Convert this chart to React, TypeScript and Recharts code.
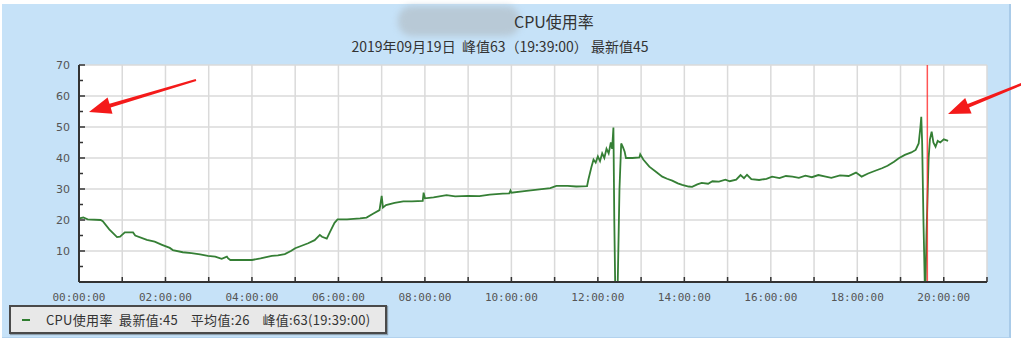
import React from 'react';
import { LineChart, Line, XAxis, YAxis, CartesianGrid, ReferenceLine } from 'recharts';

// sample time in hours since 00:00 and CPU usage (%)
const sampleHours = [
  0.0, 0.1, 0.2, 0.5, 0.55, 0.7, 0.88, 0.95, 1.06, 1.25, 1.3, 1.57, 1.75, 1.92, 2.1, 2.17, 2.4, 2.6, 2.8, 2.98,
  3.15, 3.3, 3.42, 3.45, 3.5, 3.75, 4.0, 4.2, 4.46, 4.6, 4.76, 4.9, 5.0, 5.15, 5.3, 5.45, 5.57, 5.62, 5.73, 5.8,
  5.91, 5.98, 6.2, 6.5, 6.65, 6.8, 6.95, 7.0, 7.03, 7.1, 7.3, 7.5, 7.7, 7.95, 7.97, 8.0, 8.2, 8.5, 8.7, 9.0,
  9.26, 9.5, 9.8, 9.95, 9.98, 10.0, 10.3, 10.65, 10.9, 11.04, 11.3, 11.5, 11.75, 11.78, 11.85, 11.9, 11.95, 12.0, 12.05, 12.1,
  12.15, 12.2, 12.25, 12.3, 12.33, 12.36, 12.38, 12.4, 12.46, 12.5, 12.54, 12.58, 12.62, 12.65, 12.8, 12.96, 12.98, 13.05, 13.19, 13.35,
  13.49, 13.6, 13.72, 13.85, 13.95, 14.1, 14.18, 14.3, 14.4, 14.55, 14.65, 14.8, 14.95, 15.05, 15.2, 15.3, 15.38, 15.45, 15.55, 15.73,
  15.9, 16.03, 16.2, 16.35, 16.5, 16.65, 16.8, 16.95, 17.1, 17.27, 17.4, 17.6, 17.8, 17.97, 18.05, 18.1, 18.25, 18.4, 18.57, 18.7,
  18.85, 18.96, 19.1, 19.25, 19.35, 19.42, 19.46, 19.48, 19.5, 19.53, 19.56, 19.58, 19.6, 19.62, 19.65, 19.68, 19.72, 19.76, 19.81, 19.86,
  19.92, 20.0, 20.1,
];
const cpuValues = [
  20.5, 20.8, 20.2, 20.0, 19.6, 17.0, 14.5, 14.6, 16.0, 16.0, 15.0, 13.6, 13.0, 12.0, 11.0, 10.3, 9.6, 9.3, 8.9, 8.4,
  8.2, 7.5, 8.2, 7.6, 7.1, 7.1, 7.1, 7.6, 8.4, 8.6, 9.0, 10.0, 10.9, 11.7, 12.5, 13.5, 15.2, 14.6, 14.0, 16.0,
  19.1, 20.2, 20.2, 20.5, 20.8, 22.0, 23.2, 27.8, 24.0, 24.8, 25.5, 26.0, 26.0, 26.2, 28.8, 27.0, 27.3, 28.0, 27.6, 27.8,
  27.7, 28.2, 28.5, 28.6, 29.5, 28.8, 29.3, 29.9, 30.3, 31.0, 31.0, 30.8, 30.9, 33.0, 37.0, 39.5, 38.5, 40.5, 39.0, 41.5,
  40.0, 43.0, 41.5, 45.0, 43.0, 49.8, 20.0, 0.0, 0.0, 30.0, 44.7, 43.5, 42.0, 40.0, 40.0, 40.2, 41.2, 39.5, 37.2, 35.5,
  34.0, 33.3, 32.7, 31.8, 31.3, 30.8, 30.7, 31.5, 32.0, 31.7, 32.5, 32.4, 33.0, 32.5, 33.0, 34.5, 33.5, 34.6, 33.2, 32.9,
  33.3, 34.0, 33.5, 34.2, 34.0, 33.6, 34.3, 33.8, 34.5, 34.0, 33.6, 34.4, 34.2, 35.3, 34.5, 34.0, 35.0, 35.8, 36.7, 37.5,
  38.8, 39.9, 41.0, 41.8, 42.6, 44.7, 50.0, 53.3, 45.0, 20.0, 0.0, 0.0, 15.0, 25.0, 40.0, 46.0, 48.5, 45.0, 43.6, 45.5,
  45.0, 46.0, 45.5,
];
const hourTicks = [0, 1, 2, 3, 4, 5, 6, 7, 8, 9, 10, 11, 12, 13, 14, 15, 16, 17, 18, 19, 20, 21];
const valueTicks = [0, 5, 10, 15, 20, 25, 30, 35, 40, 45, 50, 55, 60, 65, 70];
const gridValues = [10, 20, 30, 40, 50, 60, 70];
const peakHour = 19.62;

const titleText = 'CPU使用率';
const subtitleText = '2019年09月19日  峰值63（19:39:00） 最新值45';
const legendName = 'CPU使用率';
const legendStats = ['最新值:45', '平均值:26', '峰值:63(19:39:00)'];

const data = sampleHours.map((h, i) => ({ h, v: cpuValues[i] }));

const pad = (n: number) => (n < 10 ? '0' + n : '' + n);

const XTick = (props: any) => {
  const { x, y, payload } = props;
  const h = payload.value as number;
  return (
    <g>
      <line x1={x} x2={x} y1={y} y2={y - 5} stroke="#333" strokeWidth={1.5} />
      {h % 2 === 0 && h < 21 ? (
        <text x={x} y={y + 19} textAnchor="middle" fontSize={11} fill="#555" fontFamily="'DejaVu Sans Mono', monospace">
          {pad(h) + ':00:00'}
        </text>
      ) : null}
    </g>
  );
};

const YTick = (props: any) => {
  const { x, y, payload } = props;
  const v = payload.value as number;
  const major = v % 10 === 0;
  return (
    <g>
      <line x1={x} x2={x + (major ? 6 : 4)} y1={y} y2={y} stroke="#333" strokeWidth={1.5} />
      {major && v > 0 ? (
        <text x={x - 9} y={y + 4} textAnchor="end" fontSize={11} fill="#555" fontFamily="'DejaVu Sans', sans-serif">
          {v}
        </text>
      ) : null}
    </g>
  );
};

function arrowPoints(tx: number, ty: number, hx: number, hy: number, headLen: number, headW: number, shaftW: number) {
  const dx = hx - tx;
  const dy = hy - ty;
  const len = Math.sqrt(dx * dx + dy * dy);
  const ux = dx / len;
  const uy = dy / len;
  const px = -uy;
  const py = ux;
  const bx = hx - ux * headLen;
  const by = hy - uy * headLen;
  const pts = [
    [tx + px * shaftW * 0.3, ty + py * shaftW * 0.3],
    [bx + px * shaftW / 2, by + py * shaftW / 2],
    [bx + px * headW / 2, by + py * headW / 2],
    [hx, hy],
    [bx - px * headW / 2, by - py * headW / 2],
    [bx - px * shaftW / 2, by - py * shaftW / 2],
    [tx - px * shaftW * 0.3, ty - py * shaftW * 0.3],
  ];
  return pts.map((p) => p[0].toFixed(1) + ',' + p[1].toFixed(1)).join(' ');
}

export default function App() {
  return (
    <div style={{ position: 'absolute', left: 0, top: 0, width: 1021, height: 346, background: '#fff', overflow: 'hidden' }}>
      <div
        style={{
          position: 'absolute',
          left: 2,
          top: 4,
          width: 1007,
          height: 333,
          background: '#c6e2f8',
          borderRight: '2px solid #a9cbe9',
          borderBottom: '1px solid #b2d2ee',
        }}
      />
      <div
        style={{
          position: 'absolute',
          left: 398,
          top: 6,
          width: 122,
          height: 30,
          borderRadius: 14,
          background: '#b8c9d6',
          filter: 'blur(3px)',
        }}
      />
      <div
        style={{
          position: 'absolute',
          left: 514,
          top: 11,
          fontSize: 16,
          color: '#333',
          fontFamily: "'Noto Sans CJK SC', sans-serif",
          lineHeight: '20px',
          whiteSpace: 'nowrap',
        }}
      >
        {titleText}
      </div>
      <div
        style={{
          position: 'absolute',
          left: 0,
          width: 1000,
          top: 38,
          textAlign: 'center',
          fontSize: 14,
          color: '#333',
          fontFamily: "'Noto Sans CJK SC', sans-serif",
          lineHeight: '16px',
          whiteSpace: 'pre',
        }}
      >
        {subtitleText}
      </div>
      <div style={{ position: 'absolute', left: 0, top: 0 }}>
        <LineChart width={1021} height={346} data={data} margin={{ top: 65, right: 34, left: 0, bottom: 34 }}>
          <CartesianGrid
            fill="#ffffff"
            stroke="#dadada"
            strokeWidth={1.5}
            horizontalValues={gridValues}
            verticalValues={hourTicks}
          />
          <XAxis
            dataKey="h"
            type="number"
            domain={[0, 21]}
            ticks={hourTicks}
            interval={0}
            height={30}
            tickSize={0}
            tickMargin={0}
            tickLine={false}
            axisLine={{ stroke: '#333', strokeWidth: 2 }}
            tick={<XTick />}
            allowDataOverflow
          />
          <YAxis
            type="number"
            domain={[0, 70]}
            ticks={valueTicks}
            interval={0}
            width={79}
            tickSize={0}
            tickMargin={0}
            tickLine={false}
            axisLine={{ stroke: '#333', strokeWidth: 2 }}
            tick={<YTick />}
            allowDataOverflow
          />
          <Line
            dataKey="v"
            type="linear"
            stroke="#357f35"
            strokeWidth={1.8}
            dot={false}
            isAnimationActive={false}
          />
          <ReferenceLine x={peakHour} stroke="#ff2a2a" strokeWidth={1.5} strokeOpacity={0.8} />
        </LineChart>
      </div>
      <div
        style={{
          position: 'absolute',
          left: 9,
          top: 305,
          width: 374,
          height: 25,
          background: '#e8e8e8',
          border: '2px solid #4a4a4a',
          boxShadow: '1px 1px 1px rgba(0,0,0,0.3)',
          display: 'flex',
          alignItems: 'center',
          fontSize: 13,
          color: '#333',
          fontFamily: "'Noto Sans CJK SC', sans-serif",
          whiteSpace: 'pre',
        }}
      >
        <span style={{ display: 'inline-block', width: 8, height: 2, background: '#2f7d2f', marginLeft: 11, marginRight: 16 }} />
        <span style={{ letterSpacing: '0.3px' }}>{legendName + '  ' + legendStats.join('    ')}</span>
      </div>
      <svg width={1021} height={346} style={{ position: 'absolute', left: 0, top: 0, pointerEvents: 'none' }}>
        <polygon points={arrowPoints(196, 80, 89, 112, 22, 17, 4)} fill="#f41a1a" />
        <polygon points={arrowPoints(1022, 84, 948, 114, 22, 17, 4)} fill="#f41a1a" />
      </svg>
    </div>
  );
}
